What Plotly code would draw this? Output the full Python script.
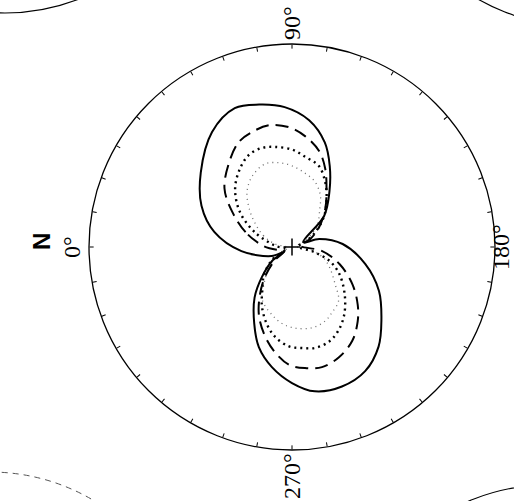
import math
import plotly.graph_objects as go

# Relative pattern amplitude (outer circle = 1.0) versus azimuth in degrees.
solid_theta = [11, 24.5, 39.2, 55.2, 67.6, 77, 87, 97.7, 107.4, 115, 124, 136, 157,
               163.5, 176.6, 193, 206.8, 219.4, 229, 239.5, 250.3, 261, 270, 279.5,
               288.3, 296.3, 306.5, 315, 325, 329, 336, 355.4]
solid_r = [0.39, 0.49, 0.58, 0.69, 0.74, 0.72, 0.69, 0.63, 0.54, 0.44, 0.33, 0.22, 0.06,
           0.14, 0.25, 0.37, 0.48, 0.57, 0.65, 0.71, 0.73, 0.72, 0.67, 0.60,
           0.52, 0.42, 0.31, 0.21, 0.12, 0.05, 0.11, 0.25]

dashed_theta = [2, 17.7, 30.3, 40.9, 53.5, 63.2, 71, 79.8, 88.6, 96.7, 105.9, 112.9, 121,
                131, 143, 156, 170, 187.6, 199.9, 211.7, 221.2, 228.7, 237.4, 246.9,
                256, 263.9, 271.5, 279.8, 287.8, 296.2, 304.2, 312, 322, 334, 348]
dashed_r = [0.14, 0.24, 0.34, 0.44, 0.52, 0.58, 0.60, 0.61, 0.59, 0.55, 0.49, 0.42, 0.33,
            0.25, 0.17, 0.10, 0.04, 0.15, 0.25, 0.35, 0.43, 0.49, 0.55, 0.59,
            0.61, 0.60, 0.58, 0.52, 0.45, 0.37, 0.28, 0.20, 0.11, 0.04, 0.07]

dotted_theta = [3.4, 22, 34, 45.5, 55.8, 64.7, 73.1, 80.4, 90, 98, 108.4, 117, 126, 136,
                147, 159, 175, 192.8, 200.7, 209.9, 222.1, 232.2, 240.8, 248.5, 257,
                264.4, 271.7, 280.7, 288, 296.6, 304.3, 316, 328, 342]
dotted_r = [0.08, 0.20, 0.31, 0.40, 0.46, 0.50, 0.51, 0.50, 0.48, 0.45, 0.42, 0.36, 0.29, 0.22,
            0.14, 0.07, 0.03, 0.11, 0.20, 0.27, 0.35, 0.42, 0.47, 0.50, 0.51,
            0.50, 0.49, 0.45, 0.40, 0.33, 0.26, 0.19, 0.11, 0.03]

fine_theta = [10, 21.4, 33.3, 41.5, 50.7, 60.6, 72, 81.2, 90, 99.8, 109.5, 118.8, 126.4,
              140, 155, 170, 185, 198.4, 208.4, 220.7, 229, 239.2, 246, 256, 267.9,
              277.4, 286, 299, 307, 320, 335, 350]
fine_r = [0.085, 0.15, 0.22, 0.28, 0.35, 0.40, 0.43, 0.42, 0.40, 0.37, 0.34, 0.29, 0.23,
          0.16, 0.07, 0.02, 0.07, 0.16, 0.21, 0.28, 0.35, 0.38, 0.40, 0.41, 0.40,
          0.38, 0.35, 0.30, 0.23, 0.14, 0.06, 0.02]

# Azimuth ticks every 10 degrees, labelled at the four quadrants.
tick_vals = list(range(0, 360, 10))
label_angles = [0, 90, 180, 270]
label_texts = ["0°", "90°", "180°", "270°"]
north_label = "N"

W, H = 514, 501
cx, cy, R = 292, 247, 203          # centre and radius of the diagram, px
label_gap = {0: 220, 90: 224, 180: 209, 270: 229}


def closed(seq):
    return list(seq) + [seq[0]]


fig = go.Figure()

curves = [
    (fine_theta, fine_r, dict(color="#6e6e6e", width=1.3, dash="1px,4px")),
    (dotted_theta, dotted_r, dict(color="black", width=2.4, dash="2px,4px")),
    (dashed_theta, dashed_r, dict(color="black", width=2.0, dash="13px,7px")),
    (solid_theta, solid_r, dict(color="black", width=2.0)),
]
for th, r, line in curves:
    fig.add_trace(go.Scatterpolar(
        theta=closed(th), r=closed(r), mode="lines",
        line=dict(shape="spline", smoothing=1.0, **line),
        hoverinfo="skip",
    ))

# Origin cross
fig.add_trace(go.Scatterpolar(
    theta=[0], r=[0], mode="markers",
    marker=dict(symbol="cross-thin", size=12, line=dict(color="black", width=1.5)),
    hoverinfo="skip",
))


def px_circle(x, y, rad, **line):
    return dict(type="circle", xref="paper", yref="paper",
                x0=(x - rad) / W, x1=(x + rad) / W,
                y0=1 - (y + rad) / H, y1=1 - (y - rad) / H,
                line=line, layer="below")


# Edges of the neighbouring diagrams on the sheet
shapes = [
    px_circle(5, -190, 203, color="black", width=1.2),
    px_circle(579, -177, 203, color="black", width=1.2),
    px_circle(-10, 675, 203, color="#555", width=1.0, dash="6px,5px"),
    px_circle(548, 688, 203, color="black", width=1.1),
]

# Azimuth labels, written sideways just outside the rim
annotations = []
for ang, txt in zip(label_angles, label_texts):
    a = math.radians(ang)
    lx = cx - label_gap[ang] * math.cos(a)
    ly = cy - label_gap[ang] * math.sin(a)
    annotations.append(dict(
        text=txt, xref="paper", yref="paper", x=lx / W, y=1 - ly / H,
        xanchor="center", yanchor="middle", showarrow=False, textangle=-90,
        font=dict(family="Liberation Serif", size=24, color="black"),
    ))
annotations.append(dict(
    text=north_label, xref="paper", yref="paper",
    x=41 / W, y=1 - 242 / H, xanchor="center", yanchor="middle",
    showarrow=False, textangle=-90,
    font=dict(family="Liberation Sans", size=24, color="black", weight="bold"),
))

fig.update_layout(
    width=W, height=H,
    margin=dict(l=0, r=0, t=0, b=0),
    paper_bgcolor="white",
    showlegend=False,
    shapes=shapes,
    annotations=annotations,
    polar=dict(
        domain=dict(x=[(cx - R) / W, (cx + R) / W],
                    y=[1 - (cy + R) / H, 1 - (cy - R) / H]),
        bgcolor="white",
        radialaxis=dict(range=[0, 1], visible=False),
        angularaxis=dict(
            rotation=180, direction="clockwise",
            tickmode="array", tickvals=tick_vals,
            showticklabels=False,
            ticks="inside", ticklen=4, tickwidth=1, tickcolor="black",
            showline=True, linecolor="black", linewidth=1.3,
            showgrid=False,
        ),
    ),
)

fig.write_html("out.html")
